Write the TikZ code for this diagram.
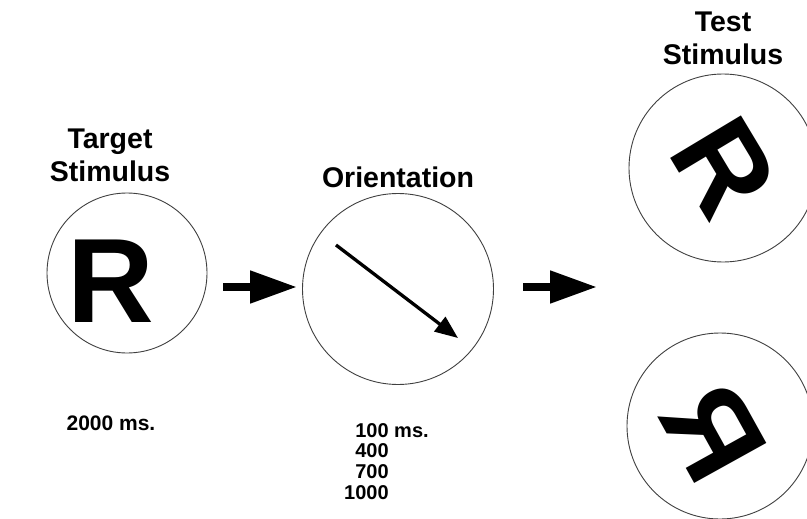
\documentclass[tikz,border=0pt]{standalone}
\usepackage{fontspec}
\setmainfont{Liberation Sans}
\usetikzlibrary{arrows.meta}
\begin{document}
\begin{tikzpicture}[x=1pt,y=-1pt,
  stim/.style={circle, draw=black!75, line width=0.9pt, inner sep=0pt, minimum size=#1},
  title/.style={font=\fontsize{28.5}{33}\selectfont\bfseries, inner sep=0pt, align=center},
  bigr/.style={font=\fontsize{120}{120}\selectfont\bfseries, inner sep=0pt},
  timing/.style={font=\fontsize{20}{20.7}\selectfont\bfseries, inner sep=0pt},
  blockarrow/.style={line width=8pt, -{Triangle[length=47pt,width=31pt]}},
  orient/.style={line width=3.3pt, -{Triangle[length=23pt,width=18pt]}}]
\clip (0,0) rectangle (807,519);
\fill[white] (0,0) rectangle (807,519);

% circles
\node[stim=160pt] (c1) at (127,273) {};
\node[stim=191pt] (c2) at (398,289) {};
\node[stim=188pt] (c3) at (723,168) {};
\node[stim=186pt] (c4) at (720,426) {};

% letters
\node[bigr] (r1) at (111,281) {R};
\node[bigr, rotate=-59] (r3) at (724,167) {R};
\node[bigr, rotate=-61] (r4) at (714,433) {\reflectbox{R}};

% titles
\node[title, anchor=north] (t1) at (110,129) {Target\\Stimulus};
\node[title, anchor=base] (t2) at (398,187) {Orientation};
\node[title, anchor=north] (t3) at (723,12) {Test\\Stimulus};

% timings
\node[timing, font=\fontsize{21}{24}\selectfont\bfseries, anchor=base] (d1) at (111,430) {2000 ms.};
\node[timing, anchor=base west] (d2) at (344,437)
  {\begin{tabular}[t]{@{}r@{}l@{}}100&\ ms.\\400&\\700&\\1000&\end{tabular}};

% block arrows
\coordinate (a1s) at (223,287);
\coordinate (a1e) at (297,287);
\coordinate (a2s) at (523,287);
\coordinate (a2e) at (597,287);
\draw[blockarrow] (a1s) -- (a1e);
\draw[blockarrow] (a2s) -- (a2e);

% orientation arrow
\coordinate (o1) at (336,245);
\coordinate (o2) at (458,338);
\draw[orient] (o1) -- (o2);
\end{tikzpicture}
\end{document}
